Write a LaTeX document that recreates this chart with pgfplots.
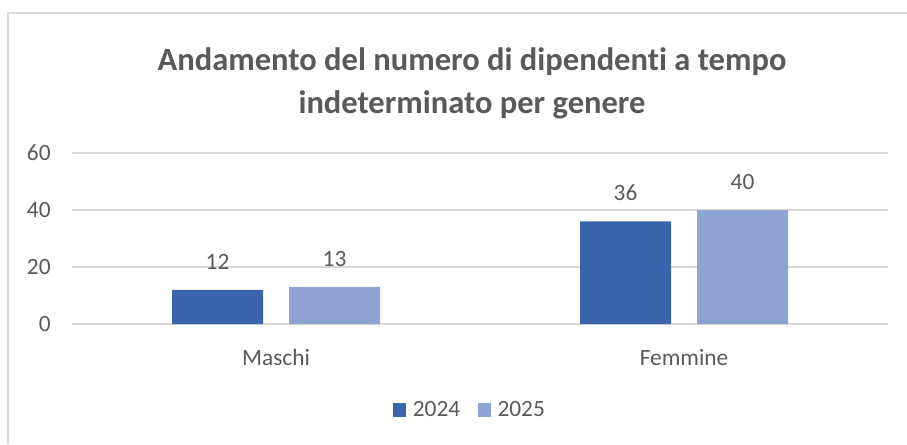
\documentclass[border=0pt]{standalone}
\usepackage{pgfplots}
\pgfplotsset{compat=1.18}
\usepackage{fontspec}
\setmainfont{Carlito}[Ligatures=CommonOff]
\definecolor{cA}{HTML}{3C64AC}
\definecolor{cB}{HTML}{90A4D4}
\definecolor{txt}{HTML}{595959}
\definecolor{grd}{HTML}{D9D9D9}
\begin{document}
\begin{tikzpicture}
\draw[grd, line width=1.2pt] (6pt,-333pt) -- (6pt,-9.75pt) -- (680.25pt,-9.75pt);
\node[txt, font=\fontsize{24.4}{28}\selectfont\bfseries] at (354pt,-46.5pt) {Andamento del numero di dipendenti a tempo};
\node[txt, font=\fontsize{24.4}{28}\selectfont\bfseries] at (354pt,-78.75pt) {indeterminato per genere};
\begin{axis}[
  at={(54pt,-243pt)}, anchor=south west,
  scale only axis, width=612pt, height=128.25pt,
  ybar=19.5pt, bar width=68.25pt,
  xmin=-0.5, xmax=1.5, ymin=0, ymax=60,
  xtick={0,1}, xticklabels={Maschi,Femmine},
  ytick={0,20,40,60},
  ymajorgrids, grid style={draw=grd, line width=1.1pt},
  axis line style={draw=none}, tick style={draw=none},
  /pgf/number format/assume math mode=true,
  ticklabel style={font=\fontsize{17.5}{20}\selectfont, text=txt},
  yticklabel style={xshift=-12.5pt},
  xticklabel style={yshift=-11.5pt},
  nodes near coords,
  every node near coord/.append style={font=\fontsize{17.5}{20}\selectfont, text=txt, yshift=12pt},
  legend style={at={(0.488,-0.503)}, anchor=center, draw=none, fill=none,
    legend columns=2, font=\fontsize{17.5}{20}\selectfont, text=txt,
    /tikz/every even column/.append style={column sep=11pt}},
  legend image code/.code={\fill[#1] (0pt,-4.9pt) rectangle (9.75pt,4.9pt); \path (0pt,0pt) -- (13pt,0pt);},
]
\addplot[fill=cA, draw=none] coordinates {(0,12) (1,36)};
\addplot[fill=cB, draw=none] coordinates {(0,13) (1,40)};
\legend{2024,2025}
\end{axis}
\pgfresetboundingbox
\useasboundingbox (0,0) rectangle (680.25pt,-333pt);
\end{tikzpicture}
\end{document}
